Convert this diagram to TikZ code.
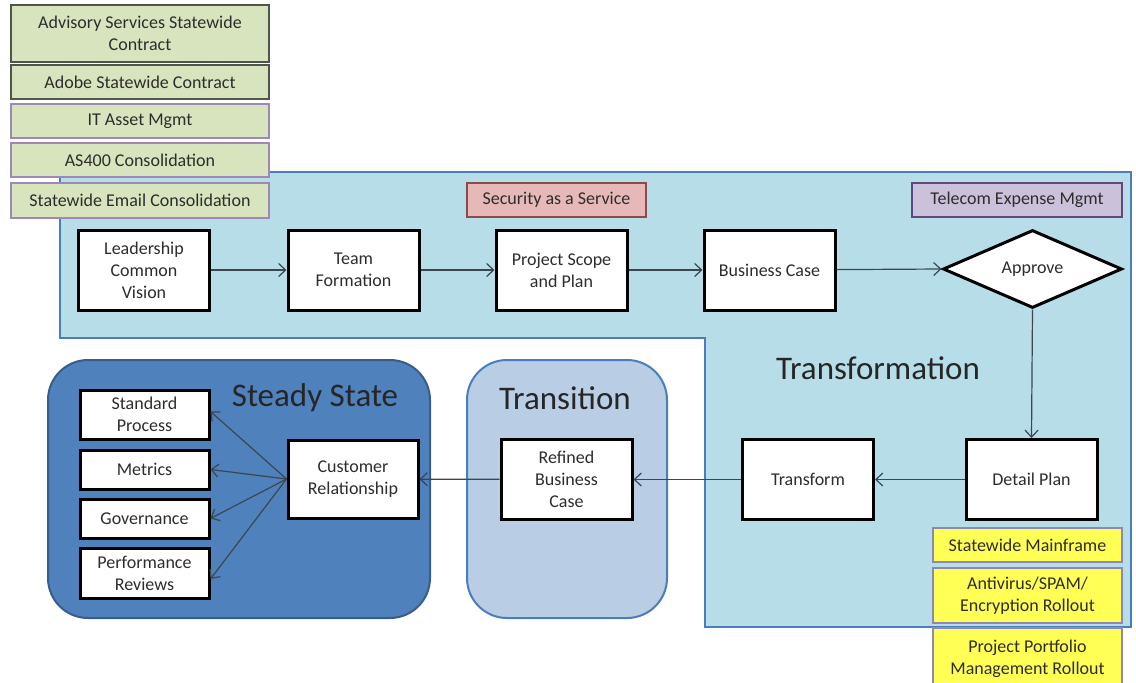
\documentclass[tikz,border=0pt]{standalone}
\usepackage{fontspec}
\setmainfont{Carlito}
\usetikzlibrary{shapes.geometric,arrows.meta}
\definecolor{regfill}{RGB}{183,222,232}
\definecolor{regline}{RGB}{74,126,187}
\definecolor{ssfill}{RGB}{79,129,189}
\definecolor{ssline}{RGB}{56,93,138}
\definecolor{trfill}{RGB}{185,205,229}
\definecolor{grfill}{RGB}{215,228,189}
\definecolor{grline}{RGB}{80,85,75}
\definecolor{puline}{RGB}{156,137,184}
\definecolor{pkfill}{RGB}{230,185,184}
\definecolor{pkline}{RGB}{140,75,74}
\definecolor{lvfill}{RGB}{204,193,218}
\definecolor{lvline}{RGB}{95,73,122}
\definecolor{yefill}{RGB}{255,255,85}
\definecolor{yeline}{RGB}{142,136,184}
\definecolor{txt}{RGB}{45,45,45}
\definecolor{conn}{RGB}{60,70,80}
\tikzset{
  x=1pt,y=-1pt,
  every node/.style={font=\fontsize{18}{22}\selectfont,text=txt,align=center,inner sep=0pt},
  proc/.style={draw=black,line width=3pt,fill=white,minimum width=131,minimum height=80},
  small/.style={draw=black,line width=3pt,fill=white,minimum width=129},
  tag/.style={line width=1.5pt,minimum height=34},
  greenbox/.style={tag,fill=grfill,minimum width=258},
  title/.style={font=\fontsize{33}{36}\selectfont,text=black!85},
  conn/.style={draw=conn,line width=1.2pt,-{Straight Barb[length=7pt,width=13pt]}}
}
\begin{document}
\begin{tikzpicture}
\useasboundingbox (0,0) rectangle (1136,683);
\clip (0,0) rectangle (1136,683);
% Transformation region
\draw[fill=regfill,draw=regline,line width=2pt]
  (60,172) -- (1131,172) -- (1131,627) -- (705,627) -- (705,338) -- (60,338) -- cycle;
\node[title] (trlab) at (878,368) {Transformation};
% green boxes
\node[greenbox,draw=grline,minimum height=57] (adv) at (140,33.5) {Advisory Services Statewide\\Contract};
\node[greenbox,draw=grline] (adobe) at (140,82) {Adobe Statewide Contract};
\node[greenbox,draw=puline] (itam) at (140,121) {IT Asset Mgmt};
\node[greenbox,draw=puline] (as400) at (140,160) {AS400 Consolidation};
\node[greenbox,draw=puline,minimum height=35] (email) at (140,200.5) {Statewide Email Consolidation};
% tags in region
\node[tag,fill=pkfill,draw=pkline,minimum width=179] (sec) at (556.5,200) {Security as a Service};
\node[tag,fill=lvfill,draw=lvline,minimum width=210] (tel) at (1017,200) {Telecom Expense Mgmt};
% top process row
\node[proc] (lead) at (144,270) {Leadership\\Common\\Vision};
\node[proc] (team) at (353.5,270) {Team\\Formation};
\node[proc] (proj) at (561.5,270) {Project Scope\\and Plan};
\node[proc] (bcase) at (769.5,270) {Business Case};
\node[diamond,draw=black,line width=3pt,fill=white,minimum width=179,minimum height=78,aspect=2.3] (appr) at (1032.5,269) {Approve};
% Steady State and Transition regions
\draw[fill=ssfill,draw=ssline,line width=2pt,rounded corners=40] (48,360) rectangle (430,618);
\node[title] (sslab) at (315,398) {Steady State};
\draw[fill=trfill,draw=regline,line width=2pt,rounded corners=40] (467,360) rectangle (667,618);
\node[title] (trnlab) at (565,398) {Transition};
% bottom process row
\node[proc] (detail) at (1031.5,479.5) {Detail Plan};
\node[proc] (transf) at (808,479.5) {Transform};
\node[proc] (refined) at (566.5,479.5) {Refined\\Business\\Case};
\node[proc,minimum width=130,minimum height=78] (cust) at (353,479) {Customer\\Relationship};
% steady-state items
\node[small,minimum height=49] (std) at (144.5,414.5) {Standard\\Process};
\node[small,minimum height=39] (met) at (144.5,469.5) {Metrics};
\node[small,minimum height=39] (gov) at (144.5,518.5) {Governance};
\node[small,minimum height=50] (perf) at (144.5,573) {Performance\\Reviews};
% yellow tags
\node[tag,fill=yefill,draw=yeline,minimum width=189] (mf) at (1027.5,545) {Statewide Mainframe};
\node[tag,fill=yefill,draw=yeline,minimum width=189,minimum height=55] (av) at (1027.5,595.5) {Antivirus/SPAM/\\Encryption Rollout};
\node[tag,fill=yefill,draw=yeline,minimum width=189,minimum height=62] (ppm) at (1027.5,659) {Project Portfolio\\Management Rollout};
% connectors
\draw[conn] (lead) -- (team);
\draw[conn] (team) -- (proj);
\draw[conn] (proj) -- (bcase);
\draw[conn] (bcase) -- (appr.west);
\draw[conn] (appr.south) -- (detail.north);
\draw[conn] (detail) -- (transf);
\draw[conn] (transf) -- (refined);
\draw[conn] (refined) -- (cust);
\draw[conn] (cust.west) -- ([yshift=3]std.east);
\draw[conn] (cust.west) -- (met.east);
\draw[conn] (cust.west) -- (gov.east);
\draw[conn] (cust.west) -- ([yshift=-6]perf.east);
\end{tikzpicture}
\end{document}
